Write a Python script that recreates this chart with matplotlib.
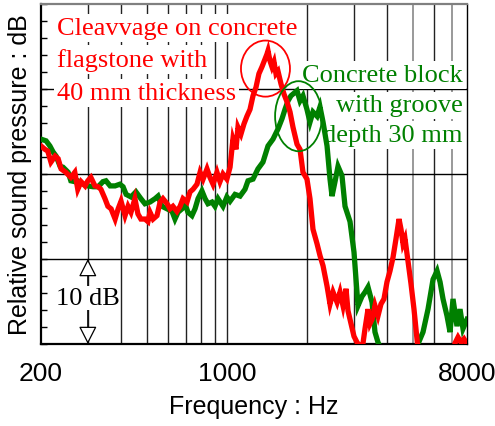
import matplotlib.pyplot as plt
from matplotlib.patches import Ellipse
from matplotlib.ticker import MultipleLocator, NullLocator

plt.rcParams['font.family'] = ['Liberation Sans', 'DejaVu Sans']

# cleavage on concrete flagstone, 40 mm thick
flagstone_hz = [200, 207, 212, 218, 226, 232, 238, 248, 259, 268, 275, 283, 293, 300, 308,
                319, 328, 336, 348, 357, 367, 380, 390, 400, 414, 425, 436, 451, 463, 475,
                492, 505, 514, 528, 546, 561, 575, 596, 611, 627, 649, 667, 684, 708, 727,
                746, 772, 793, 814, 842, 864, 887, 918, 942, 967, 1000, 1028, 1054, 1082,
                1101, 1130, 1160, 1190, 1222, 1254, 1287, 1320, 1355, 1391, 1415, 1428,
                1453, 1478, 1504, 1530, 1557, 1598, 1640, 1683, 1728, 1773, 1836, 1884,
                1933, 2001, 2054, 2108, 2183, 2240, 2300, 2381, 2443, 2508, 2597, 2664,
                2734, 2806, 2855, 2930, 3007, 3086, 3168, 3251, 3308, 3395, 3455, 3516,
                3606, 3701, 3798, 3898, 4001, 4107, 4216, 4327, 4441, 4518, 4597, 4676,
                4798, 4925, 5055, 5144, 5234, 5370, 5800, 6400, 7026, 7211, 7400, 7596,
                7792, 8000]
flagstone_db = [23.3, 22.9, 22.7, 21.4, 22.1, 21.8, 20.6, 20.2, 19.6, 20.2, 18.2, 19.1, 18.6,
                19.2, 19.6, 18.6, 18.5, 18.2, 17.1, 16.2, 15.9, 14.7, 15.9, 16.8, 15.1, 16.2,
                15.5, 17.1, 15.3, 14.7, 14.7, 14.4, 15.5, 14.7, 15.1, 16.7, 17.1, 16.5, 15.9,
                16.2, 15.6, 16.2, 17.1, 16.7, 17.9, 18.2, 18.8, 20.2, 19.4, 20.6, 19.6, 18.8,
                20.2, 19.1, 20.0, 19.4, 20.8, 24.1, 22.9, 25.5, 24.7, 25.9, 26.8, 27.6, 29.2,
                30.2, 31.8, 32.6, 33.5, 34.1, 34.5, 33.3, 32.6, 33.2, 31.8, 32.1, 30.6, 29.4,
                28.5, 27.3, 25.5, 23.5, 22.9, 20.2, 19.4, 17.1, 13.5, 11.8, 10.4, 9.2, 6.8,
                4.7, 6.1, 4.9, 6.1, 4.5, 6.5, 3.9, 2.4, 0.9, 0.2, -0.3, 0.1, 1.8, 4.1, 2.4,
                2.9, 4.5, 3.3, 4.7, 5.3, 7.3, 8.6, 10.2, 12.4, 14.7, 13.5, 11.8, 12.4, 9.8,
                7.1, 4.1, 1.8, -0.6, -3.5, -5.0, -4.5, -1.8, 0.1, 0.8, 0.2, 0.6, 0.0]

# concrete block with 30 mm deep groove
block_hz = [200, 209, 216, 222, 228, 236, 242, 253, 259, 268, 275, 288, 300, 314, 328, 342,
            351, 364, 380, 396, 407, 418, 436, 455, 475, 492, 514, 537, 551, 570, 596, 622,
            638, 655, 678, 696, 714, 739, 759, 779, 806, 828, 849, 879, 902, 926, 967, 1000,
            1028, 1073, 1121, 1170, 1201, 1254, 1309, 1367, 1428, 1491, 1557, 1612, 1654,
            1698, 1742, 1788, 1836, 1884, 1933, 2001, 2054, 2108, 2183, 2240, 2300, 2381,
            2443, 2486, 2551, 2618, 2710, 2782, 2905, 3007, 3060, 3113, 3222, 3308, 3395,
            3516, 3606, 3701, 3798, 4000, 4500, 5000, 5144, 5234, 5466, 5708, 5962, 6173,
            6335, 6500, 6729, 6907, 7087, 7336, 7532, 7727, 8000]
block_db = [24.1, 23.9, 23.3, 22.6, 22.1, 20.9, 20.8, 20.2, 19.2, 19.1, 19.2, 18.8, 18.6, 18.5,
            18.5, 19.1, 19.2, 18.6, 18.6, 18.8, 18.5, 17.6, 17.3, 17.9, 17.1, 16.5, 16.7, 17.1,
            17.4, 16.2, 15.9, 15.6, 14.7, 15.5, 15.9, 16.5, 15.5, 15.1, 15.9, 17.1, 18.0, 17.1,
            16.5, 16.7, 16.2, 17.1, 16.2, 17.3, 16.8, 17.6, 17.4, 18.2, 19.2, 19.4, 20.6, 21.4,
            23.3, 24.1, 25.3, 26.5, 27.6, 28.6, 29.2, 29.5, 29.8, 28.6, 29.2, 27.6, 26.1, 27.3,
            26.8, 27.9, 26.1, 23.3, 19.4, 17.4, 19.1, 20.9, 19.8, 16.2, 14.4, 10.8, 7.6, 4.5,
            5.6, 6.1, 6.7, 4.9, 1.4, 0.2, -0.6, -3.0, -4.5, -3.0, -1.8, 0.0, 1.4, 4.1, 7.6,
            8.6, 7.3, 5.3, 3.3, 1.4, 5.3, 2.1, 4.1, 1.8, 2.9]

tick_hz = [200, 1000, 8000]
tick_labels = ['200', '1000', '8000']
grid_hz_dark = [300, 400, 500, 600, 700, 800, 900, 1000, 2000, 3000, 4000, 6000]
grid_hz_gray = [5000, 7000]
grid_db = [10, 20, 30]

flagstone_peak = (1397, 32.4)
block_peak = (1860, 26.8)

fig = plt.figure(figsize=(4.95, 4.27), dpi=100)
ax = fig.add_axes([41 / 495, 82 / 427, 426 / 495, 340 / 427])
ax.set_xscale('log')
ax.set_xlim(200, 8000)
ax.set_ylim(0, 40)

for f in grid_hz_dark:
    ax.axvline(f, color='#222222', lw=1.0, zorder=1)
for f in grid_hz_gray:
    ax.axvline(f, color='#888888', lw=1.2, zorder=1)
for d in grid_db:
    ax.axhline(d, color='black', lw=1.0, zorder=1)

ax.plot(block_hz, block_db, color='#008000', lw=3.8, zorder=4, solid_joinstyle='miter')
ax.plot(flagstone_hz, flagstone_db, color='#ff0000', lw=3.8, zorder=4, solid_joinstyle='miter')

ax.set_xticks(tick_hz, labels=tick_labels)
ax.xaxis.set_minor_locator(NullLocator())
ax.tick_params(axis='x', length=0, pad=12, labelsize=19)
ax.yaxis.set_major_locator(MultipleLocator(10))
ax.yaxis.set_minor_locator(MultipleLocator(2))
ax.tick_params(axis='y', which='both', direction='in', length=4, width=1,
               labelleft=False, left=True, right=False)

for side in ['left', 'bottom']:
    ax.spines[side].set_linewidth(1.6)
ax.spines['top'].set_color('#808080')
ax.spines['top'].set_linewidth(1.6)
ax.spines['right'].set_linewidth(1.0)

ax.set_xlabel('Frequency : Hz', fontsize=18)
ax.xaxis.set_label_coords(0.5, -0.148)
ax.set_ylabel('Relative sound pressure : dB', fontsize=18)
ax.yaxis.set_label_coords(-0.022, 0.5)

serif = ['Liberation Serif', 'DejaVu Serif']
box = dict(fc='white', ec='none', pad=2)
red_lines = ['Cleavvage on concrete', 'flagstone with', '40 mm thickness']
for txt, y in zip(red_lines, [0.912, 0.818, 0.721]):
    ax.text(0.0376, y, txt, transform=ax.transAxes, family=serif, fontsize=19,
            color='#ff0000', ha='left', va='baseline', bbox=box, zorder=3)
green_lines = ['Concrete block', 'with groove', 'depth 30 mm']
for txt, y in zip(green_lines, [0.774, 0.684, 0.598]):
    ax.text(0.99, y, txt, transform=ax.transAxes, family=serif, fontsize=19,
            color='#008000', ha='right', va='baseline', bbox=box, zorder=3)


def to_axes(point):
    return ax.transAxes.inverted().transform(ax.transData.transform(point))


ax.add_patch(Ellipse(to_axes(flagstone_peak), 0.115, 0.165, transform=ax.transAxes,
                     fill=False, ec='#ff0000', lw=1.3, zorder=5))
ax.add_patch(Ellipse(to_axes(block_peak), 0.110, 0.206, transform=ax.transAxes,
                     fill=False, ec='#008000', lw=1.3, zorder=5))

# 10 dB scale bar
ax.annotate('', xy=(300, 10), xytext=(300, 0),
            arrowprops=dict(arrowstyle='<|-|>,head_length=0.55,head_width=0.28',
                            mutation_scale=20, fc='white', ec='black', lw=0.9,
                            shrinkA=0, shrinkB=0), zorder=2)
ax.text(300, 5.4, '10 dB', family=serif, fontsize=19, ha='center', va='center',
        bbox=dict(fc='white', ec='none', pad=0.5), zorder=3)

fig.savefig('out.png', dpi=100)
